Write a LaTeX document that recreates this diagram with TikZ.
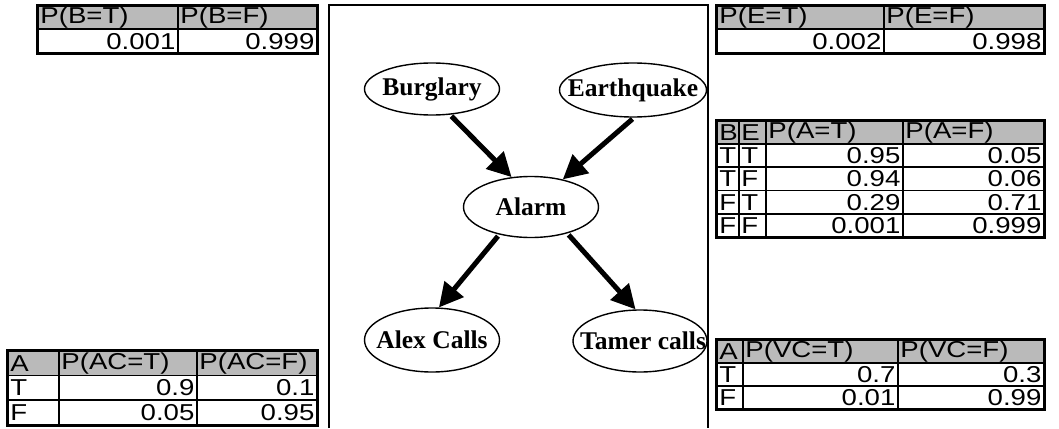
\documentclass[tikz,border=0pt]{standalone}
\usepackage{fontspec}
\setmainfont{Liberation Serif}
\newfontfamily\tabfont[FakeStretch=1.2]{Liberation Sans}
\usetikzlibrary{arrows.meta,shapes.geometric}

% one table cell: name, left, top, width, height, style, text
\newcommand\tcell[7]{%
  \node[#6, minimum width=#4pt, minimum height=#5pt, text width=#4pt-5pt] (#1) at (#2,#3) {#7};}
% ellipse label that does not widen its ellipse
\newcommand\nlabel[1]{\makebox[0pt]{#1}}

\tikzset{
  cell/.style={draw=black, line width=1.8pt, rectangle, inner xsep=2.5pt, inner ysep=0pt,
    font=\tabfont\fontsize{23}{24}\selectfont, anchor=north west},
  hl/.style={cell, fill=black!27, align=left},
  nl/.style={cell, fill=white, align=left},
  nr/.style={cell, fill=white, align=right},
  frame/.style={line width=2.8pt},
  netnode/.style={ellipse, draw, line width=1.4pt, inner sep=0pt, fill=white,
    font=\bfseries\fontsize{25.5}{27}\selectfont},
  edge/.style={line width=5pt, -{Triangle[length=24pt,width=24pt]}, shorten <=2pt}
}

\begin{document}
\begin{tikzpicture}[x=1pt,y=-1pt]
\useasboundingbox (0,0) rectangle (1059,428);

% network panel (open at the bottom)
\coordinate (pbl) at (329,428);
\coordinate (ptl) at (329,5);
\coordinate (ptr) at (708,5);
\coordinate (pbr) at (708,428);
\draw[line width=1.4pt] (pbl) -- (ptl) -- (ptr) -- (pbr);

% nodes of the network
\node[netnode, minimum width=135pt, minimum height=52pt] (bur) at (432,89) {\nlabel{Burglary}};
\node[netnode, minimum width=147pt, minimum height=54pt] (eq)  at (633,90) {\nlabel{Earthquake}};
\node[netnode, minimum width=135pt, minimum height=61pt] (al)  at (531,207) {\nlabel{Alarm}};
\node[netnode, minimum width=135pt, minimum height=64pt] (ac)  at (432,340) {\nlabel{Alex Calls}};
\node[netnode, minimum width=134pt, minimum height=62pt] (tc)  at (640,341) {\nlabel{\hspace*{6pt}Tamer calls}};

\draw[edge] (bur.-55) -- (al.123);
\draw[edge] (eq.-88) -- (al.41);
\draw[edge] (al.-139) -- (ac.78);
\draw[edge] (al.-36) -- (tc.98);

% P(B)
\tcell{b11}{37}{5}{140}{23.5}{hl}{P(B=T)}
\tcell{b12}{177}{5}{139}{23.5}{hl}{P(B=F)}
\tcell{b21}{37}{28.5}{140}{23.5}{nr}{0.001}
\tcell{b22}{177}{28.5}{139}{23.5}{nr}{0.999}
\draw[frame] (b11.north west) rectangle (b22.south east);

% P(E)
\tcell{e11}{716}{5}{167}{23.5}{hl}{P(E=T)}
\tcell{e12}{883}{5}{160}{23.5}{hl}{P(E=F)}
\tcell{e21}{716}{28.5}{167}{23.5}{nr}{0.002}
\tcell{e22}{883}{28.5}{160}{23.5}{nr}{0.998}
\draw[frame] (e11.north west) rectangle (e22.south east);

% P(A | B, E)
\tcell{a11}{716}{120}{22}{23.2}{hl}{B}
\tcell{a12}{738}{120}{27}{23.2}{hl}{E}
\tcell{a13}{765}{120}{137}{23.2}{hl}{P(A=T)}
\tcell{a14}{902}{120}{141}{23.2}{hl}{P(A=F)}
\tcell{a21}{716}{143.2}{22}{23.2}{nl}{T}
\tcell{a22}{738}{143.2}{27}{23.2}{nl}{T}
\tcell{a23}{765}{143.2}{137}{23.2}{nr}{0.95}
\tcell{a24}{902}{143.2}{141}{23.2}{nr}{0.05}
\tcell{a31}{716}{166.4}{22}{23.2}{nl}{T}
\tcell{a32}{738}{166.4}{27}{23.2}{nl}{F}
\tcell{a33}{765}{166.4}{137}{23.2}{nr}{0.94}
\tcell{a34}{902}{166.4}{141}{23.2}{nr}{0.06}
\tcell{a41}{716}{189.6}{22}{23.2}{nl}{F}
\tcell{a42}{738}{189.6}{27}{23.2}{nl}{T}
\tcell{a43}{765}{189.6}{137}{23.2}{nr}{0.29}
\tcell{a44}{902}{189.6}{141}{23.2}{nr}{0.71}
\tcell{a51}{716}{212.8}{22}{23.2}{nl}{F}
\tcell{a52}{738}{212.8}{27}{23.2}{nl}{F}
\tcell{a53}{765}{212.8}{137}{23.2}{nr}{0.001}
\tcell{a54}{902}{212.8}{141}{23.2}{nr}{0.999}
\draw[frame] (a11.north west) rectangle (a54.south east);

% P(AC | A)
\tcell{c11}{7}{350}{51}{24.5}{hl}{A}
\tcell{c12}{58}{350}{138}{24.5}{hl}{P(AC=T)}
\tcell{c13}{196}{350}{120}{24.5}{hl}{P(AC=F)}
\tcell{c21}{7}{374.5}{51}{24.5}{nl}{T}
\tcell{c22}{58}{374.5}{138}{24.5}{nr}{0.9}
\tcell{c23}{196}{374.5}{120}{24.5}{nr}{0.1}
\tcell{c31}{7}{399}{51}{24.5}{nl}{F}
\tcell{c32}{58}{399}{138}{24.5}{nr}{0.05}
\tcell{c33}{196}{399}{120}{24.5}{nr}{0.95}
\draw[frame] (c11.north west) rectangle (c33.south east);

% P(VC | A)
\tcell{v11}{716}{339}{26}{23}{hl}{A}
\tcell{v12}{742}{339}{155}{23}{hl}{P(VC=T)}
\tcell{v13}{897}{339}{146}{23}{hl}{P(VC=F)}
\tcell{v21}{716}{362}{26}{23}{nl}{T}
\tcell{v22}{742}{362}{155}{23}{nr}{0.7}
\tcell{v23}{897}{362}{146}{23}{nr}{0.3}
\tcell{v31}{716}{385}{26}{23}{nl}{F}
\tcell{v32}{742}{385}{155}{23}{nr}{0.01}
\tcell{v33}{897}{385}{146}{23}{nr}{0.99}
\draw[frame] (v11.north west) rectangle (v33.south east);
\end{tikzpicture}
\end{document}
